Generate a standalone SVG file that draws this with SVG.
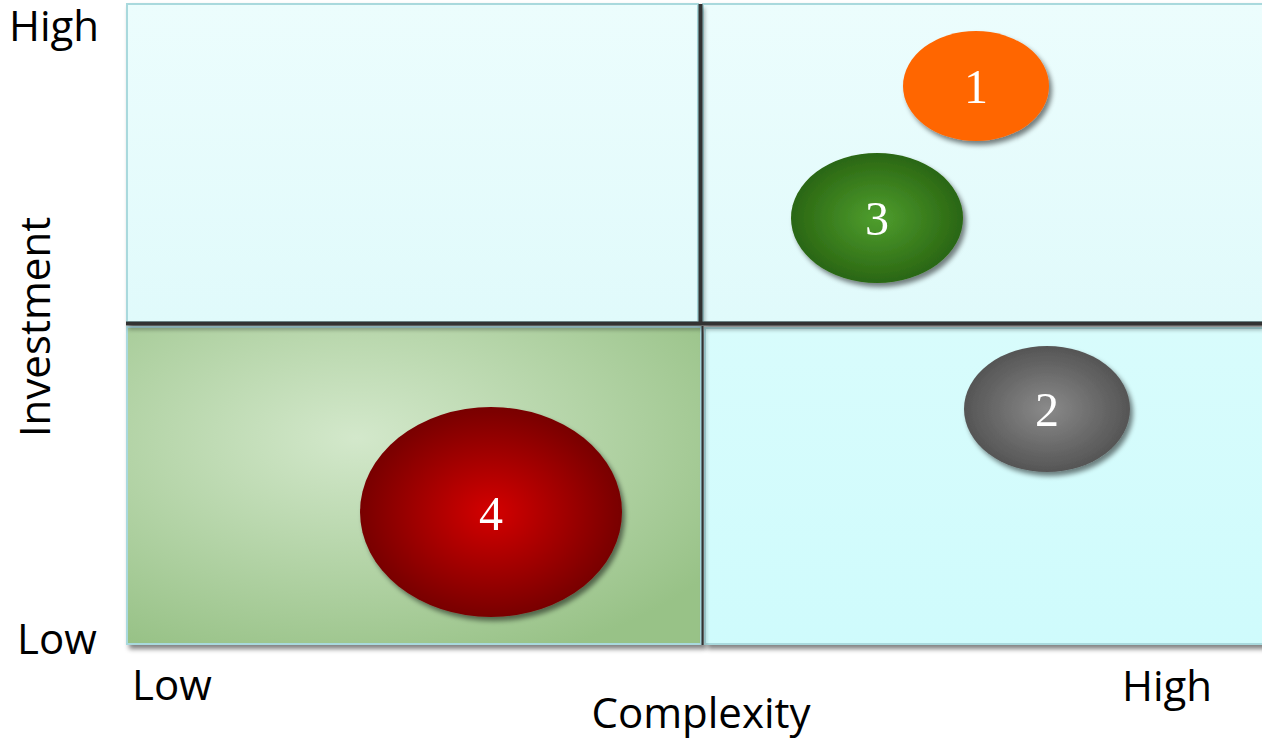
<svg xmlns="http://www.w3.org/2000/svg" width="1262" height="740" viewBox="0 0 1262 740">
  <style>
    .axis { font-family: "Open Sans", "Liberation Sans", sans-serif; font-size: 42px; fill: #000; }
    .num { font-family: "Liberation Serif", "DejaVu Serif", serif; font-size: 48px; fill: #fff; text-anchor: middle; }
    .quad { stroke: #a9d9dd; stroke-width: 2; }
    .divider { fill: #333; }
  </style>
  <defs>
    <linearGradient id="topFill" x1="0" y1="0" x2="0" y2="1">
      <stop offset="0" stop-color="#ecfdfd"/>
      <stop offset="1" stop-color="#e0fafb"/>
    </linearGradient>
    <linearGradient id="lowFill" x1="0" y1="0" x2="0" y2="1">
      <stop offset="0" stop-color="#d8fcfc"/>
      <stop offset="1" stop-color="#cffbfc"/>
    </linearGradient>
    <radialGradient id="greenFill" cx="0.4" cy="0.35" r="0.75">
      <stop offset="0" stop-color="#d3e8cb"/>
      <stop offset="1" stop-color="#98c287"/>
    </radialGradient>
    <radialGradient id="redFill" cx="0.5" cy="0.5" r="0.5">
      <stop offset="0" stop-color="#d40000"/>
      <stop offset="1" stop-color="#780000"/>
    </radialGradient>
    <radialGradient id="grayFill" cx="0.5" cy="0.5" r="0.5">
      <stop offset="0" stop-color="#8a8a8a"/>
      <stop offset="1" stop-color="#555"/>
    </radialGradient>
    <radialGradient id="leafFill" cx="0.5" cy="0.5" r="0.5">
      <stop offset="0" stop-color="#4f9e2e"/>
      <stop offset="1" stop-color="#2a6612"/>
    </radialGradient>
    <filter id="shadow" x="-20%" y="-20%" width="140%" height="140%">
      <feGaussianBlur in="SourceAlpha" stdDeviation="2.5"/>
      <feOffset dx="3" dy="4" result="b"/>
      <feComponentTransfer><feFuncA type="linear" slope="0.5"/></feComponentTransfer>
      <feMerge><feMergeNode/><feMergeNode in="SourceGraphic"/></feMerge>
    </filter>
    <filter id="lineShadow" filterUnits="userSpaceOnUse" x="0" y="0" width="1262" height="740">
      <feGaussianBlur in="SourceAlpha" stdDeviation="2"/>
      <feOffset dx="2" dy="4"/>
      <feComponentTransfer><feFuncA type="linear" slope="0.35"/></feComponentTransfer>
      <feMerge><feMergeNode/><feMergeNode in="SourceGraphic"/></feMerge>
    </filter>
  </defs>

  <rect width="1262" height="740" fill="#fff"/>

  <!-- quadrants -->
  <g id="quadrants">
    <rect id="q-top-left" class="quad" x="127" y="4" width="571" height="318" fill="url(#topFill)" filter="url(#shadow)"/>
    <rect id="q-top-right" class="quad" x="703" y="4" width="562" height="318" fill="url(#topFill)" filter="url(#shadow)"/>
    <rect id="q-bottom-left" class="quad" x="127" y="327" width="574" height="317" fill="url(#greenFill)" filter="url(#shadow)"/>
    <rect id="q-bottom-right" class="quad" x="705" y="328" width="560" height="316" fill="url(#lowFill)" filter="url(#shadow)"/>
  </g>

  <!-- dividing lines -->
  <g id="connectors" filter="url(#lineShadow)">
    <rect class="divider" x="698.5" y="4" width="4" height="321"/>
    <rect class="divider" x="126" y="321.5" width="1136" height="4"/>
    <rect class="divider" x="701.5" y="326" width="2" height="319"/>
  </g>

  <!-- bubbles -->
  <g id="bubble-1" filter="url(#shadow)">
    <ellipse cx="976" cy="86" rx="73" ry="55" fill="#ff6600"/>
    <text class="num" x="976" y="103">1</text>
  </g>
  <g id="bubble-3" filter="url(#shadow)">
    <ellipse cx="877" cy="218" rx="86" ry="65" fill="url(#leafFill)"/>
    <text class="num" x="877" y="235">3</text>
  </g>
  <g id="bubble-2" filter="url(#shadow)">
    <ellipse cx="1047" cy="409" rx="83" ry="63" fill="url(#grayFill)"/>
    <text class="num" x="1047" y="426">2</text>
  </g>
  <g id="bubble-4" filter="url(#shadow)">
    <ellipse cx="491" cy="512" rx="131" ry="105" fill="url(#redFill)"/>
    <text class="num" x="491" y="530">4</text>
  </g>

  <!-- axis labels -->
  <g id="axis-labels">
    <text class="axis" x="9" y="41">High</text>
    <text class="axis" x="17" y="654">Low</text>
    <text class="axis" text-anchor="middle" transform="translate(50 327) rotate(-90)">Investment</text>
    <text class="axis" x="132" y="700">Low</text>
    <text class="axis" x="1122" y="701">High</text>
    <text class="axis" text-anchor="middle" x="701" y="728">Complexity</text>
  </g>
</svg>
